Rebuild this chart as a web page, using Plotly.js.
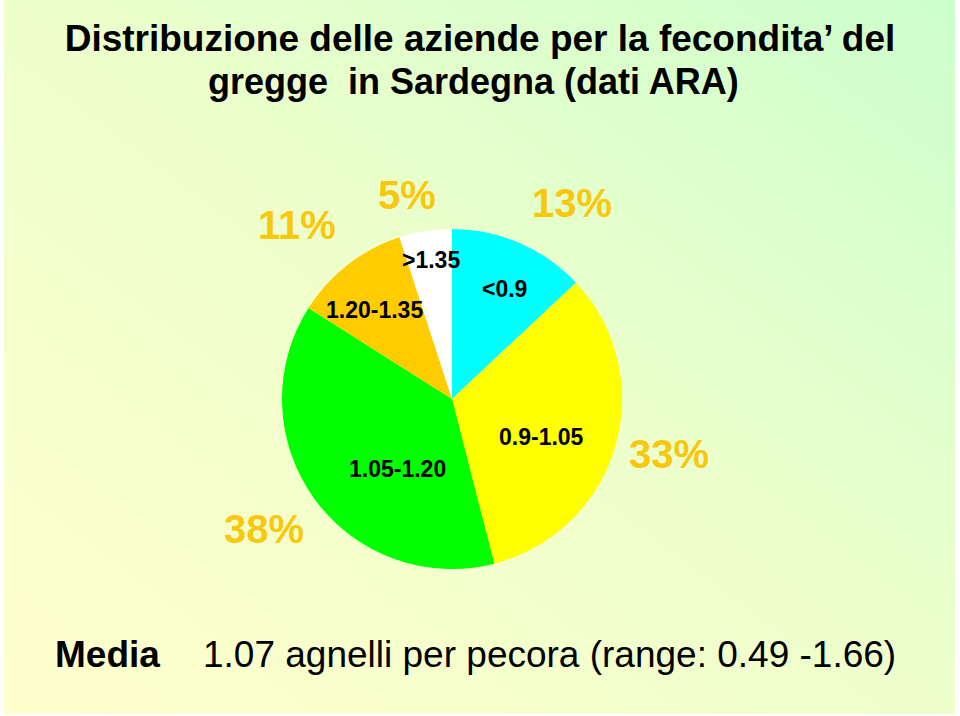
<!DOCTYPE html>
<html>
<head>
<meta charset="utf-8">
<script src="https://cdn.plot.ly/plotly-3.0.1.min.js"></script>
<style>
  html, body { margin: 0; padding: 0; background: #ffffff; }
  #bg { position: absolute; left: 4px; top: 0; width: 951px; height: 714px;
        background: linear-gradient(to top right, #FFFFCC 0%, #EEFFCC 50%, #CCFFCC 100%); }
  #chart { position: absolute; left: 0; top: 0; width: 960px; height: 716px; }
</style>
</head>
<body>
<div id="bg"></div>
<div id="chart"></div>
<script>
// ---- data ----
const categories = ["<0.9", "0.9-1.05", "1.05-1.20", "1.20-1.35", ">1.35"];
const values = [13, 33, 38, 11, 5];
const sliceColors = ["#00FFFF", "#FFFF00", "#00FF00", "#FFCC00", "#FFFFFF"];
const titleLine1 = "Distribuzione delle aziende per la fecondita\u2019 del";
const titleLine2 = "gregge  in Sardegna (dati ARA)";
const footLabel = "Media";
const footText = "1.07 agnelli per pecora (range: 0.49 -1.66)";

// ---- layout positions (pixels in 960x716 page) ----
const W = 960, H = 716;
const pctPos = [[572, 203], [669, 454], [264, 529], [297, 225], [407, 195]];
const catPos = [[505, 289], [541, 437], [397, 469], [374, 310], [431, 260]];
const px = x => x / W;
const py = y => 1 - y / H;

const font = "Arial, 'Liberation Sans', sans-serif";
const pctColor = "#F8C80C";

const annotations = [];
categories.forEach((c, i) => {
  annotations.push({
    text: "<b>" + values[i] + "%</b>", xref: "paper", yref: "paper",
    x: px(pctPos[i][0]), y: py(pctPos[i][1]), xanchor: "center", yanchor: "middle",
    showarrow: false, font: {family: font, size: 40, color: pctColor}
  });
  annotations.push({
    text: "<b>" + c.replace("<", "&lt;").replace(">", "&gt;") + "</b>", xref: "paper", yref: "paper",
    x: px(catPos[i][0]), y: py(catPos[i][1]), xanchor: "center", yanchor: "middle",
    showarrow: false, font: {family: font, size: 23, color: "#000000"}
  });
});
annotations.push({
  text: "<b>" + titleLine2 + "</b>", xref: "paper", yref: "paper",
  x: px(473), y: py(81), xanchor: "center", yanchor: "middle",
  showarrow: false, font: {family: font, size: 36, color: "#000000"}
});
annotations.push({
  text: "<b>" + footLabel + "</b>", xref: "paper", yref: "paper",
  x: px(53), y: py(654), xanchor: "left", yanchor: "middle",
  showarrow: false, font: {family: font, size: 37, color: "#000000"}
});
annotations.push({
  text: footText, xref: "paper", yref: "paper",
  x: px(201), y: py(654), xanchor: "left", yanchor: "middle",
  showarrow: false, font: {family: font, size: 37, color: "#000000"}
});

const cx = 452, cy = 399, r = 170;
const trace = {
  type: "pie",
  labels: categories,
  values: values,
  sort: false,
  direction: "clockwise",
  rotation: 0,
  marker: {colors: sliceColors, line: {width: 0}},
  textinfo: "none",
  hoverinfo: "label+percent",
  showlegend: false,
  domain: {x: [px(cx - r), px(cx + r)], y: [py(cy + r), py(cy - r)]}
};

const layout = {
  width: W, height: H,
  margin: {l: 0, r: 0, t: 0, b: 0},
  paper_bgcolor: "rgba(0,0,0,0)",
  plot_bgcolor: "rgba(0,0,0,0)",
  showlegend: false,
  title: {
    text: "<b>" + titleLine1 + "</b>",
    x: px(480), xanchor: "center",
    y: py(38), yanchor: "middle",
    font: {family: font, size: 37, color: "#000000"}
  },
  annotations: annotations
};

Plotly.newPlot("chart", [trace], layout, {displayModeBar: false, staticPlot: true});
</script>
</body>
</html>
